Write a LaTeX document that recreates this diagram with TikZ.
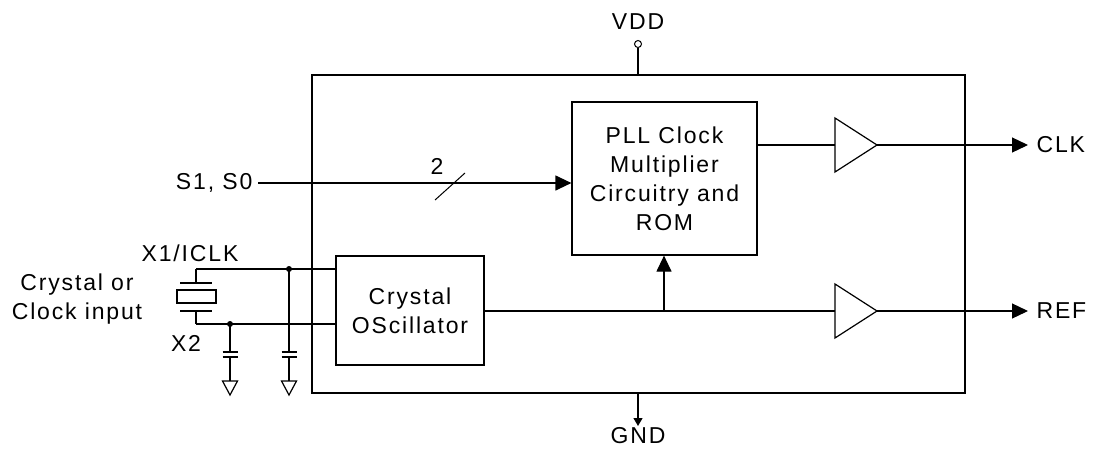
\documentclass[tikz,border=0pt]{standalone}
\usepackage{fontspec}
\setmainfont{Liberation Sans}[LetterSpace=8]
\usetikzlibrary{arrows.meta,shapes.geometric}
\tikzset{
        every picture/.style={line width=0.6pt},
        lbl/.style={font=\fontsize{11.5}{14.5}\selectfont, inner sep=0pt},
        block/.style={rectangle, draw=black, line width=0.6pt, align=center, font=\fontsize{11.5}{14.5}\selectfont},
        buffer/.style={isosceles triangle, draw=black, line width=0.6pt, isosceles triangle stretches, minimum width=27pt, minimum height=21pt, inner sep=0pt, outer sep=0pt, anchor=lower side},
        pinend/.style={circle, draw=black, line width=0.5pt, inner sep=0pt, minimum size=3.5pt, fill=white},
        dot/.style={circle, fill=black, inner sep=0pt, minimum size=3pt},
        sig/.style={-{Triangle[length=8pt,width=7.5pt]}},
        smallsig/.style={-{Triangle[length=4pt,width=4.5pt]}}
          }
\begin{document}
\begin{tikzpicture}[x=0.5pt,y=-0.5pt]
        \useasboundingbox (0,0) rectangle (1097,450);
        % blocks
        \node[block, minimum width=326.5pt, minimum height=159pt] (chip) at (638.5,234) {};
        \node[block, minimum width=92.5pt, minimum height=76.5pt] (pll) at (664.5,178.5) {PLL Clock\\Multiplier\\Circuitry and\\ROM};
        \node[block, minimum width=74pt, minimum height=54.5pt] (osc) at (410,310.5) {Crystal\\OScillator};
        \node[buffer] (bclk) at (835,145) {};
        \node[buffer] (bref) at (835,311) {};
        % supply pins
        \node[lbl] (vdd) at (638,22) {VDD};
        \node[pinend] (vddp) at (638,44) {};
        \draw (vddp) -- (vddp |- chip.north);
        \node[lbl] (gnd) at (638,436) {GND};
        \coordinate (gndtip) at (638,426);
        \draw[smallsig] (gndtip |- chip.south) -- (gndtip);
        % select inputs
        \node[lbl, anchor=east] (sel) at (253,183) {S1, S0};
        \coordinate (selin) at (258,183);
        \draw[sig] (selin) -- (pll.west |- selin);
        \node[lbl] (bus) at (437,166) {2};
        \coordinate (busa) at (435,200);
        \coordinate (busb) at (465,173);
        \draw[line width=0.5pt] (busa) -- (busb);
        % outputs
        \node[lbl, anchor=west] (clk) at (1036,145) {CLK};
        \node[lbl, anchor=west] (ref) at (1036,311) {REF};
        \coordinate (clkend) at (1028,145);
        \coordinate (refend) at (1028,311);
        \draw (pll.east |- bclk.lower side) -- (bclk.lower side);
        \draw[sig] (bclk.apex) -- (clkend);
        \draw (osc.east |- bref.lower side) -- (bref.lower side);
        \draw[sig] (bref.apex) -- (refend);
        \coordinate (fb) at (664,311);
        \draw[sig] (fb) -- (fb |- pll.south);
        % crystal
        \coordinate (x1) at (196,269);
        \coordinate (x2) at (196,324);
        \draw (x1) -- (196,283) (180,283) -- (212,283);
        \draw (177,290) rectangle (216,303);
        \draw (180,311) -- (212,311) (196,311) -- (x2);
        \draw (x1) -- (osc.west |- x1);
        \draw (x2) -- (osc.west |- x2);
        \node[dot] (j1) at (289,269) {};
        \node[dot] (j2) at (230,324) {};
        \foreach \j/\x in {j1/289, j2/230} {
          \draw (\j.center) -- (\x,352) (\x-7.5,352) -- (\x+7.5,352);
          \draw (\x-7.5,357) -- (\x+7.5,357) (\x,357) -- (\x,381);
          \draw (\x-7.5,381) -- (\x+7.5,381) -- (\x,395) -- cycle;
        }
        \node[lbl] (x1lbl) at (190,253) {X1/ICLK};
        \node[lbl] (x2lbl) at (186,343) {X2};
        \node[lbl, align=center] (xin) at (77,299) {Crystal or\\Clock input};
      \end{tikzpicture}
\end{document}
